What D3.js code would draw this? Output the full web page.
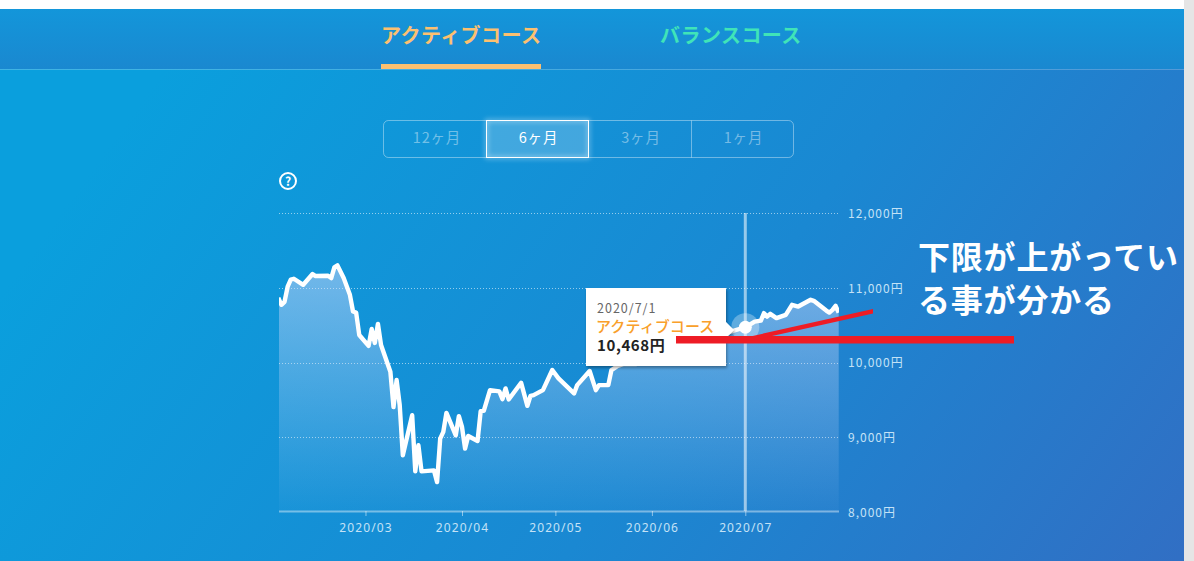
<!DOCTYPE html>
<html lang="ja"><head><meta charset="utf-8">
<script src="https://cdn.jsdelivr.net/npm/d3@7"></script>
<style>
html,body{margin:0;padding:0;background:#fff;overflow:hidden}
svg{display:block}
text{font-family:"Noto Sans CJK JP","Noto Sans",sans-serif}
</style></head><body>
<svg id="c" width="1194" height="561"></svg>
<script>
const tabs = ["アクティブコース","バランスコース"];
const periods = ["12ヶ月","6ヶ月","3ヶ月","1ヶ月"];
const monthTicks = ["2020-03-01","2020-04-01","2020-05-01","2020-06-01","2020-07-01"];
const yTicks = [8000,9000,10000,11000,12000];
const dates = ["02-02","02-03","02-04","02-05","02-06","02-07","02-10","02-13","02-14","02-18","02-19","02-20","02-21","02-23","02-25","02-26","02-27","02-28",
"03-02","03-03","03-04","03-05","03-06","03-09","03-10","03-11","03-12","03-13","03-16","03-17","03-18","03-19","03-23","03-24","03-25","03-26","03-27","03-30","03-31",
"04-01","04-02","04-03","04-06","04-07","04-08","04-10","04-13","04-14","04-15","04-16","04-20","04-22","04-23","04-24","04-27","04-30",
"05-02","05-07","05-08","05-12","05-14","05-15","05-18","05-19","05-21","05-23","05-27",
"06-01","06-08","06-15","06-22","06-26",
"07-01","07-04","07-06","07-07","07-08","07-09","07-11","07-14","07-16","07-18","07-22","07-23","07-27","07-28","07-29","07-30","07-31"];
const values = [10863,10769,10809,11011,11105,11118,11037,11181,11154,11158,11127,11270,11297,11127,10903,10679,10665,10365,
10218,10446,10258,10513,10231,9872,9398,9761,9425,8753,9290,8538,8887,8538,8551,8394,8977,9066,9321,9021,9277,
9133,8843,9012,8945,9344,9348,9626,9609,9505,9649,9501,9724,9415,9550,9559,9626,9895,
9783,9582,9693,9882,9626,9693,9693,9895,9949,9976,9976,
10050,10200,10180,10350,10406,
10468,10544,10558,10657,10611,10648,10590,10634,10769,10746,10836,10822,10692,10665,10701,10755,10665];
const tipDate = "2020/7/1", tipSeries = "アクティブコース", tipValue = 10468, tipDay = "2020-07-01";
const note = ["下限が上がってい","る事が分かる"];

const parse = d3.utcParse("%Y-%m-%d");
const data = dates.map((d,i)=>({t:parse("2020-"+d),v:values[i]}));
const x = d3.scaleUtc().domain([parse("2020-02-02"),parse("2020-07-31")]).range([278.3,838.7]);
const y = d3.scaleLinear().domain([8000,12000]).range([511.5,212.9]);
const gy = v => Math.ceil(y(v))+0.5;
const svg = d3.select("#c");
const defs = svg.append("defs");

function grad(id,x1,y1,x2,y2,stops){
  const g = defs.append("linearGradient").attr("id",id).attr("gradientUnits","userSpaceOnUse")
    .attr("x1",x1).attr("y1",y1).attr("x2",x2).attr("y2",y2);
  stops.forEach(s=>g.append("stop").attr("offset",s[0]).attr("stop-color",s[1]).attr("stop-opacity",s[2]===undefined?1:s[2]));
}
grad("bg",250,-50,1150,600,[[0,"#0a9fdd"],[0.55,"#1a88d2"],[1,"#316fc4"]]);
grad("hd",0,9,0,69,[[0,"#1396da"],[1,"#1a88d0"]]);
grad("ar",0,265,0,511,[[0,"#c4d4f8",0.55],[1,"#c4d4f8",0.03]]);
const glow = defs.append("filter").attr("id","glow").attr("x","-30%").attr("y","-30%").attr("width","160%").attr("height","160%");
glow.append("feGaussianBlur").attr("stdDeviation",2.5);
const sh = defs.append("filter").attr("id","sh").attr("x","-10%").attr("y","-10%").attr("width","120%").attr("height","120%");
sh.append("feDropShadow").attr("dx",1).attr("dy",2).attr("stdDeviation",1.5).attr("flood-color","#000").attr("flood-opacity",0.35);
defs.append("clipPath").attr("id","pl").append("rect").attr("x",279).attr("y",200).attr("width",560).attr("height",311);

// page
svg.append("rect").attr("x",0).attr("y",0).attr("width",1194).attr("height",561).attr("fill","#fff");
svg.append("rect").attr("x",1184).attr("y",0).attr("width",10).attr("height",561).attr("fill","#e5e5e5");
svg.append("rect").attr("x",0).attr("y",9).attr("width",1184).attr("height",552).attr("fill","url(#bg)");
svg.append("rect").attr("x",0).attr("y",9).attr("width",1184).attr("height",60).attr("fill","url(#hd)");
svg.append("rect").attr("x",0).attr("y",69).attr("width",1184).attr("height",1).attr("fill","#fff").attr("opacity",0.22);

// tabs
svg.append("text").attr("x",381).attr("y",43).attr("font-size",20).attr("font-weight",700).attr("letter-spacing",0.45).attr("fill","#fcc070").text(tabs[0]);
svg.append("text").attr("x",660).attr("y",43).attr("font-size",20).attr("font-weight",700).attr("letter-spacing",0.45).attr("fill","#40e4b8").text(tabs[1]);
svg.append("rect").attr("x",381).attr("y",64).attr("width",160).attr("height",5).attr("fill","#fcc070");

// period buttons
svg.append("rect").attr("x",383.5).attr("y",120.5).attr("width",410).attr("height",37).attr("rx",5)
  .attr("fill","none").attr("stroke","#fff").attr("stroke-opacity",0.38);
svg.append("line").attr("x1",691.5).attr("x2",691.5).attr("y1",120.5).attr("y2",157.5).attr("stroke","#fff").attr("stroke-opacity",0.38);
svg.append("rect").attr("x",486.5).attr("y",120.5).attr("width",102).attr("height",37)
  .attr("fill","none").attr("stroke","#fff").attr("stroke-width",2).attr("opacity",0.6).attr("filter","url(#glow)");
svg.append("rect").attr("x",486.5).attr("y",120.5).attr("width",102).attr("height",37)
  .attr("fill","#fff").attr("fill-opacity",0.2).attr("stroke","#fff");
const pc = [437,538.5,641,743.5];
periods.forEach((p,i)=>svg.append("text").attr("x",pc[i]).attr("y",143).attr("text-anchor","middle").attr("font-size",14.5)
  .attr("letter-spacing",0.8).attr("fill","#fff").attr("fill-opacity",i===1?1:0.42).text(p));

// help icon
svg.append("circle").attr("cx",288).attr("cy",181).attr("r",8).attr("fill","none").attr("stroke","#fff").attr("stroke-width",2);
svg.append("text").attr("x",288).attr("y",185.5).attr("text-anchor","middle").attr("font-size",12).attr("font-weight",700).attr("fill","#fff").text("?");

// grid
svg.append("g").selectAll("line").data(yTicks.filter(v=>v>8000)).join("line")
  .attr("x1",279).attr("x2",839).attr("y1",gy).attr("y2",gy)
  .attr("stroke","#fff").attr("stroke-opacity",0.42).attr("stroke-dasharray","1 2");

// area + line
const plot = svg.append("g").attr("clip-path","url(#pl)");
plot.append("path").datum(data).attr("fill","url(#ar)")
  .attr("d",d3.area().x(d=>x(d.t)).y0(y(8000)).y1(d=>y(d.v)));
svg.append("g").selectAll("line").data(yTicks.filter(v=>v>8000)).join("line")
  .attr("x1",279).attr("x2",839).attr("y1",gy).attr("y2",gy)
  .attr("stroke","#fff").attr("stroke-opacity",0.22).attr("stroke-dasharray","1 2");
plot.append("path").datum(data).attr("fill","none").attr("stroke","#fff").attr("stroke-width",4.4).attr("stroke-linejoin","round")
  .attr("d",d3.line().x(d=>x(d.t)).y(d=>y(d.v)));

// axes
const ax = svg.append("g").attr("transform","translate(0,511)")
  .call(d3.axisBottom(x).tickValues(monthTicks.map(parse)).tickSize(5).tickPadding(7).tickFormat(d3.utcFormat("%Y/%m")));
ax.select(".domain").attr("d","M279,0.5H839").attr("stroke","#fff").attr("stroke-opacity",0.42).attr("stroke-width",2);
ax.selectAll(".tick line").attr("stroke","#fff").attr("stroke-opacity",0.5);
ax.selectAll("text").attr("font-size",12).attr("fill","#c4e2f6").attr("letter-spacing",1.1).style("font-family",'"Noto Sans",sans-serif');
const ay = svg.append("g").attr("transform","translate(839,0.8)")
  .call(d3.axisRight(y).tickValues(yTicks).tickSize(0).tickPadding(9).tickFormat(d=>d3.format(",")(d)+"円"));
ay.select(".domain").remove();
ay.selectAll("text").attr("font-size",12).attr("fill","#c4e2f6").attr("letter-spacing",1);

// cursor
const cx = x(parse(tipDay)), cy = y(tipValue);
svg.append("line").attr("x1",cx).attr("x2",cx).attr("y1",213).attr("y2",511).attr("stroke","#fff").attr("stroke-opacity",0.55).attr("stroke-width",3);
svg.append("circle").attr("cx",cx).attr("cy",cy).attr("r",14).attr("fill","#fff").attr("fill-opacity",0.3);
svg.append("circle").attr("cx",cx).attr("cy",cy).attr("r",6.5).attr("fill","#fff");

// tooltip
svg.append("path").attr("d","M586,288H726V322L734,330L726,338V366H586Z").attr("fill","#fff").attr("filter","url(#sh)");
svg.append("text").attr("x",597).attr("y",313).attr("font-size",12.5).attr("fill","#666").attr("letter-spacing",1).text(tipDate);
svg.append("text").attr("x",596).attr("y",332).attr("font-size",15).attr("font-weight",500).attr("letter-spacing",0.1).attr("fill","#f9a02a").text(tipSeries);
svg.append("text").attr("x",597).attr("y",350.5).attr("font-size",15).attr("font-weight",700).attr("letter-spacing",0.6).attr("fill","#222").text(d3.format(",")(tipValue)+"円");

// annotation
const red = "#ee1c25";
svg.append("rect").attr("x",676).attr("y",336).attr("width",338).attr("height",7.5).attr("fill",red);
svg.append("path").attr("d","M739,339L873,309L873,313.5L752,340.5Z").attr("fill",red);
note.forEach((t,i)=>svg.append("text").attr("x",918).attr("y",269+i*43).attr("font-size",32).attr("font-weight",700)
  .attr("letter-spacing",0.8).attr("fill","#fff").text(t));
</script>
</body></html>
